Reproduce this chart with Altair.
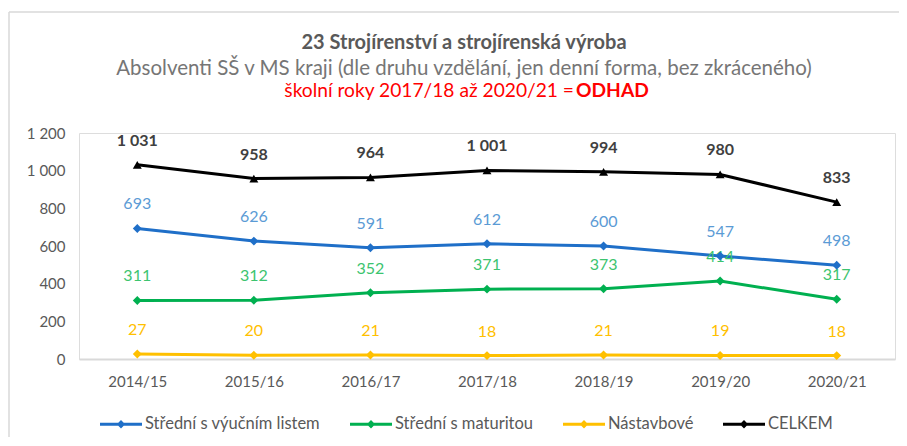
import altair as alt
import pandas as pd

# ---------------- data ----------------
years = ["2014/15", "2015/16", "2016/17", "2017/18", "2018/19", "2019/20", "2020/21"]
series_names = ["Střední s výučním listem", "Střední s maturitou", "Nástavbové", "CELKEM"]
vyucni = [693, 626, 591, 612, 600, 547, 498]
maturita = [311, 312, 352, 371, 373, 414, 317]
nastavbove = [27, 20, 21, 18, 21, 19, 18]
celkem = [1031, 958, 964, 1001, 994, 980, 833]
y_ticks = [0, 200, 400, 600, 800, 1000, 1200]

title_text = "23 Strojírenství a strojírenská výroba"
subtitle_text = "Absolventi SŠ v MS kraji  (dle druhu vzdělání, jen denní forma, bez zkráceného)"
note_text = "školní roky 2017/18 až 2020/21 = "
note_bold = "ODHAD"

# ---------------- styles ----------------
line_colors = ["#1F6FC8", "#00B050", "#FFC000", "#000000"]
label_colors = ["#5B9BD5", "#3CC46F", "#FFC000", "#404040"]
point_shapes = ["diamond", "diamond", "diamond", "triangle-up"]
FONT = "Lato"
GRAY = "#595959"

rows = []
for name, vals in zip(series_names, [vyucni, maturita, nastavbove, celkem]):
    for yr, v in zip(years, vals):
        rows.append({"rok": yr, "serie": name, "pocet": v})
df = pd.DataFrame(rows)

W, H = 816, 226

x_enc = alt.X(
    "rok:O",
    sort=years,
    scale=alt.Scale(domain=years),
    axis=alt.Axis(
        title=None, labelAngle=0, ticks=False, domainColor="#D9D9D9", domainWidth=2,
        labelColor=GRAY, labelFontSize=15, labelPadding=15, labelFont=FONT,
    ),
)
y_enc = alt.Y(
    "pocet:Q",
    scale=alt.Scale(domain=[0, 1200], nice=False),
    axis=alt.Axis(
        title=None, values=y_ticks, domain=False, ticks=False, grid=False,
        labelExpr="replace(format(datum.value, ','), ',', ' ')",
        labelColor=GRAY, labelFontSize=15, labelPadding=14, labelFont=FONT,
    ),
)
color_scale = alt.Scale(domain=series_names, range=line_colors)

base = alt.Chart(df)

layers = []
# series lines + markers + value labels, one series at a time (constant colours)
for name, lc, tc, shp in zip(series_names, line_colors, label_colors, point_shapes):
    sub = base.transform_filter(alt.datum.serie == name)
    layers.append(sub.mark_line(strokeWidth=3, color=lc).encode(x=x_enc, y=y_enc))
    if shp != "diamond":
        layers.append(
            sub.mark_point(filled=True, size=80, opacity=1, shape=shp, color=lc).encode(x=x_enc, y=y_enc)
        )
    layers.append(
        sub.transform_calculate(lbl="replace(format(datum.pocet, ','), ',', ' ')")
        .mark_text(dy=-24, fontSize=16, font=FONT, color=tc,
                   fontWeight="bold" if name == "CELKEM" else "normal")
        .encode(x=x_enc, y=y_enc, text="lbl:N")
    )

# diamond markers carry the (only) colour legend
legend_path = "M-1,-0.075H1V0.075H-1Z M0,-0.2L0.2,0L0,0.2L-0.2,0Z"
diamonds = base.transform_filter(alt.datum.serie != "CELKEM").mark_point(
    filled=True, size=80, opacity=1, shape="diamond"
).encode(
    x=x_enc, y=y_enc,
    color=alt.Color(
        "serie:N", scale=color_scale, sort=series_names,
        legend=alt.Legend(
            title=None, orient="none", direction="horizontal", columns=4,
            legendX=21, legendY=270, padding=0,
            symbolType=legend_path, symbolSize=1764, symbolStrokeWidth=0,
            labelFont=FONT, labelFontSize=16.5, labelColor=GRAY, labelOffset=3,
            columnPadding=29, labelLimit=400,
        ),
    ),
)

one = alt.Chart(pd.DataFrame({"k": [0]}))
frame_top = one.mark_rule(color="#D9D9D9", strokeWidth=1.5).encode(
    x=alt.value(-70), x2=alt.value(830), y=alt.value(-121))
frame_left = one.mark_rule(color="#D9D9D9", strokeWidth=1.5).encode(
    x=alt.value(-70), y=alt.value(-121), y2=alt.value(330))

t1 = one.mark_text(font=FONT, fontSize=20, fontWeight="bold", color=GRAY, align="center", baseline="middle").encode(
    x=alt.value(385), y=alt.value(-90), text=alt.value(title_text))
t2 = one.mark_text(font=FONT, fontSize=20.5, color="#767676", align="center", baseline="middle").encode(
    x=alt.value(385), y=alt.value(-64), text=alt.value(subtitle_text))
t3 = one.mark_text(font=FONT, fontSize=19.2, color="#FF0000", align="right", baseline="middle").encode(
    x=alt.value(495), y=alt.value(-42), text=alt.value(note_text))
t4 = one.mark_text(font=FONT, fontSize=19.2, fontWeight="bold", color="#FF0000", align="left", baseline="middle").encode(
    x=alt.value(497), y=alt.value(-42), text=alt.value(note_bold))

chart = alt.layer(
    frame_top, frame_left, t1, t2, t3, t4, *layers, diamonds
).properties(
    width=W, height=H,
    autosize=alt.AutoSizeParams(type="none"),
    padding={"left": 71, "top": 125, "right": 4, "bottom": 78},
).configure_view(stroke=None).configure(background="white")

chart.save("out.html", embed_options={"renderer": "svg", "actions": False})
